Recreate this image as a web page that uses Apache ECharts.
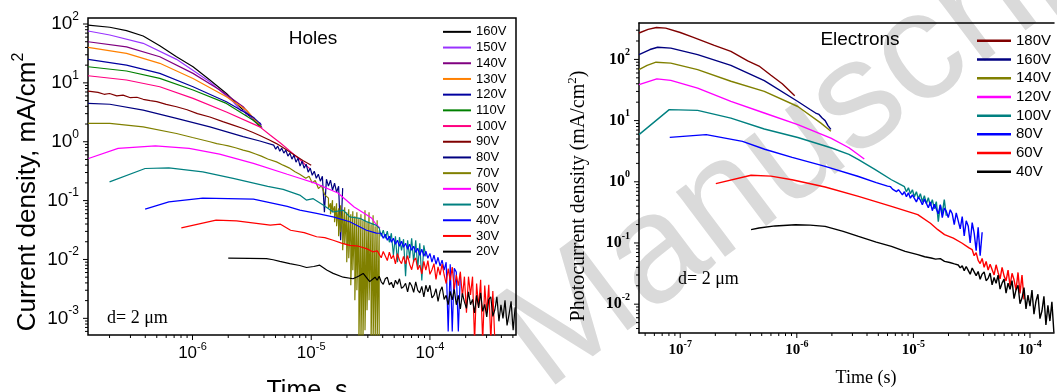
<!DOCTYPE html>
<html>
<head>
<meta charset="utf-8">
<script src="https://cdn.jsdelivr.net/npm/echarts@6/dist/echarts.min.js"></script>
<style>
  html, body { margin: 0; padding: 0; background: #fff; }
  #chart { width: 1057px; height: 392px; }
</style>
</head>
<body>
<div id="chart"></div>
<script>
const SANS = '"Liberation Sans", Arial, sans-serif';
const SERIF = '"Liberation Serif", "Times New Roman", serif';

// Sampling times (s) of the long-time, noisy part of the transients
const tTail = [
  4.828e-6, 5.022e-6, 5.223e-6, 5.433e-6, 5.651e-6, 5.878e-6, 6.114e-6, 6.359e-6, 6.614e-6, 6.880e-6,
  7.156e-6, 7.443e-6, 7.742e-6, 8.053e-6, 8.376e-6, 8.712e-6, 9.062e-6, 9.426e-6, 9.805e-6, 1.0199e-5,
  1.0608e-5, 1.1034e-5, 1.1477e-5, 1.1938e-5, 1.2417e-5, 1.2915e-5, 1.3434e-5, 1.3973e-5, 1.4534e-5, 1.5117e-5,
  1.5724e-5, 1.6355e-5, 1.7012e-5, 1.7695e-5, 1.8405e-5, 1.9144e-5, 1.9912e-5, 2.0711e-5, 2.1544e-5, 2.2408e-5,
  2.3308e-5, 2.4243e-5, 2.5216e-5, 2.6229e-5, 2.7281e-5, 2.8377e-5, 2.9516e-5, 3.0701e-5, 3.1933e-5, 3.3215e-5,
  3.4548e-5, 3.5935e-5, 3.7377e-5, 3.8878e-5, 4.0439e-5, 4.2062e-5, 4.3750e-5, 4.5507e-5, 4.7333e-5, 4.9234e-5,
  5.1210e-5, 5.3266e-5, 5.5404e-5, 5.7628e-5, 5.9942e-5, 6.2348e-5, 6.4851e-5, 6.7454e-5, 7.0162e-5, 7.2979e-5,
  7.5908e-5, 7.8955e-5, 8.2125e-5, 8.5422e-5, 8.8851e-5, 9.2418e-5, 9.6128e-5, 1.0000e-4, 1.0401e-4, 1.0819e-4,
  1.1253e-4, 1.1705e-4, 1.2175e-4, 1.2663e-4, 1.3172e-4, 1.3700e-4, 1.4250e-4, 1.4822e-4, 1.5417e-4, 1.6036e-4,
  1.6681e-4, 1.7350e-4, 1.8047e-4, 1.8772e-4, 1.9525e-4, 2.0309e-4, 2.1124e-4, 2.1972e-4, 2.2855e-4, 2.3772e-4,
  2.4727e-4, 2.5720e-4, 2.6752e-4, 2.7826e-4, 2.8943e-4, 3.0105e-4, 3.1314e-4, 3.2571e-4, 3.3879e-4, 3.5239e-4,
  3.6654e-4, 3.8125e-4, 3.9656e-4, 4.1248e-4, 4.2904e-4, 4.4627e-4, 4.6416e-4, 4.8280e-4, 5.0218e-4, 5.2233e-4
];

// ---------- Holes: [time (s), current density (mA/cm^2)] ----------
const holes160 = [[1.32e-7,96],[2.01e-7,88],[2.78e-7,77],[3.84e-7,62.5],[5.30e-7,42.8],[7.33e-7,27.8],[1.01e-6,18.8],[1.40e-6,11.2],[1.93e-6,6.6],[2.50e-6,3.93],[3.1e-6,2.6],[3.75e-6,1.75]];
const holes150 = [[1.32e-7,76],[2.01e-7,65],[3.84e-7,47],[7.33e-7,25.1],[1.40e-6,10.4],[2.20e-6,4.77],[2.4e-6,3.9],[2.55e-6,3.35],[2.7e-6,3.45],[2.85e-6,2.8],[3.0e-6,2.95],[3.15e-6,2.4],[3.3e-6,2.55],[3.5e-6,2.0],[3.7e-6,2.1],[3.85e-6,1.7]];
const holes140 = [[1.32e-7,50],[2.78e-7,41],[5.30e-7,27.8],[1.01e-6,14.5],[1.70e-6,7.55],[2.67e-6,3.93],[3.2e-6,2.6],[3.8e-6,1.75]];
const holes130 = [[1.32e-7,40],[2.78e-7,31.7],[5.30e-7,21.5],[1.01e-6,11.9],[1.93e-6,5.8],[2.85e-6,3.44],[3.8e-6,1.78]];
const holes120 = [[1.32e-7,25],[2.78e-7,20],[5.30e-7,14.5],[1.01e-6,8.6],[1.93e-6,4.77],[3.22e-6,2.64],[3.8e-6,1.95]];
const holes110 = [[1.32e-7,18.8],[2.78e-7,15.9],[5.30e-7,11.9],[1.01e-6,7.55],[1.93e-6,4.48],[3.22e-6,2.33],[3.8e-6,1.8]];
const holes100 = [[1.32e-7,13.2],[2.78e-7,11.2],[5.30e-7,8.6],[1.01e-6,5.46],[1.93e-6,3.2],[3.69e-6,1.79],[4.5e-6,1.3],[5.5e-6,0.95],[6.6e-6,0.70],[8.0e-6,0.50],[9.7e-6,0.35]];
const holes90 = [[1.32e-7,7.26],[1.6e-7,6.9],[1.8e-7,6.4],[2.0e-7,6.6],[2.3e-7,6.0],[2.6e-7,6.2],[3.0e-7,5.6],[3.4e-7,5.7],[3.84e-7,5.26],[4.4e-7,5.0],[5.0e-7,4.8],[6.0e-7,4.3],[7.33e-7,3.93],[9e-7,3.5],[1.1e-6,3.0],[1.4e-6,2.63],[1.8e-6,2.2],[2.2e-6,1.92],[2.67e-6,1.68],[3.2e-6,1.45],[3.69e-6,1.28],[4.4e-6,1.08],[5.1e-6,0.93],[6e-6,0.76],[7e-6,0.62],[8.5e-6,0.48],[1.0e-5,0.40]];
const holes80 = [[1.32e-7,4.48],[2.01e-7,4.33],[3.84e-7,3.44],[7.33e-7,2.49],[1.40e-6,1.79],[2.67e-6,1.22],[3.69e-6,1.03]];
const holes80Tail = [0.876,0.748,0.842,0.692,0.778,0.640,0.720,0.569,0.640,0.506,0.592,0.450,0.526,0.385,0.468,0.356,0.416,0.304,0.356,0.270,0.316,0.240,0.281,0.214,0.260,0.0635,0.231,0.176,0.222,0.150,0.198,0.139,0.176,0.0212,0.163];
const holes70 = [[1.32e-7,2.05],[2.01e-7,2.05],[3.84e-7,1.79],[7.33e-7,1.38],[1.0e-6,1.18],[1.4e-6,1.0],[1.6e-6,0.93],[1.8e-6,0.89],[2.0e-6,0.85],[2.3e-6,0.79],[2.67e-6,0.72],[3.0e-6,0.68],[3.4e-6,0.62],[3.8e-6,0.57],[4.3e-6,0.51],[5.1e-6,0.455],[5.8e-6,0.40],[6.5e-6,0.36],[7.3e-6,0.31],[8.0e-6,0.28],[9.0e-6,0.24],[9.6e-6,0.26],[1.02e-5,0.20],[1.08e-5,0.22],[1.15e-5,0.16],[1.22e-5,0.18],[1.3e-5,0.125]];
// upper and lower excursions of the 70V trace at each tail sample
const holes70High = [0.110,0.0903,0.1016,0.0803,0.0903,0.0743,0.0835,0.0687,0.0773,0.0635,0.0714,0.0587,0.0661,0.0543,0.0635,0.0502,0.0587,0.0465,0.0687,0.0430,0.0635,0.0397,0.0565,0.0367,0.0465,0.0314];
const holes70Low = [0.0743,0.0587,0.0635,0.0430,0.0367,0.0248,0.0290,0.0143,0.0181,0.0090,0.0105,0.00364,0.00655,0.00202,0.00299,0.0004,0.0004,0.0004,0.000625,0.00137,0.00202,0.0004,0.0004,0.0004,0.0004,0.0004];
const holes60 = [[1.33e-7,0.52],[2.36e-7,0.77],[4.86e-7,0.85],[9.37e-7,0.77],[1.69e-6,0.615],[3.26e-6,0.43],[6.28e-6,0.28],[8.0e-6,0.24],[1.06e-5,0.20],[1.68e-5,0.135],[2.3e-5,0.078],[2.9e-5,0.058],[3.24e-5,0.05],[3.5e-5,0.04],[3.8e-5,0.034]];
const holes50 = [[2.0e-7,0.208],[3.99e-7,0.351],[6.32e-7,0.36],[1.22e-6,0.308],[2.2e-6,0.238],[4.3e-6,0.175],[5.8e-6,0.155],[8.0e-6,0.124],[9.1e-6,0.102],[1.04e-5,0.108],[1.26e-5,0.084],[1.53e-5,0.064],[1.86e-5,0.069],[2.11e-5,0.053],[2.57e-5,0.05],[2.92e-5,0.044],[3.54e-5,0.038]];
const holes50Tail = [0.0340,0.0248,0.0314,0.0229,0.0302,0.0196,0.0279,0.0118,0.0248,0.0090,0.0239,0.0143,0.0221,0.0052,0.0212,0.0105,0.0229,0.0090,0.0212,0.0071,0.0189,0.0044,0.0174,0.0113];
const holes40 = [[3.99e-7,0.0715],[6.32e-7,0.095],[1.22e-6,0.11],[3.26e-6,0.106],[6.28e-6,0.08],[8.02e-6,0.069],[1.11e-5,0.0605],[1.53e-5,0.053],[2.11e-5,0.0438],[2.92e-5,0.0314],[3.54e-5,0.028]];
const holes40Tail = [0.0279,0.0229,0.0268,0.0212,0.0248,0.0196,0.0229,0.0181,0.0212,0.0168,0.0204,0.0161,0.0189,0.0149,0.0181,0.0143,0.0168,0.0132,0.0155,0.0118,0.0149,0.0113,0.0138,0.0105,0.0127,0.0090,0.0118,0.0083,0.0109,0.0077,0.0097,0.0066,0.0090,0.0006,0.0083,0.0006,0.0071,0.0061,0.0006,0.0058];
const holes30 = [[8.05e-7,0.0344],[1.58e-6,0.0465],[2.35e-6,0.0453],[4.52e-6,0.0382],[5.51e-6,0.0397],[6.7e-6,0.0314],[8.72e-6,0.0285],[1.11e-5,0.0243],[1.3e-5,0.0235],[1.53e-5,0.0212],[1.8e-5,0.019],[2.11e-5,0.0174],[2.5e-5,0.0168],[2.92e-5,0.0153],[3.3e-5,0.0135],[3.6e-5,0.0140]];
const holes30Tail = [0.0139,0.0107,0.0137,0.0115,0.0096,0.0133,0.0103,0.0118,0.0084,0.0126,0.0097,0.0085,0.0113,0.0084,0.0116,0.0083,0.0067,0.0096,0.0106,0.0067,0.0080,0.0057,0.0093,0.0066,0.0096,0.0056,0.0067,0.0085,0.0046,0.0075,0.0054,0.0083,0.0055,0.0039,0.0070,0.0044,0.0074,0.0031,0.0055,0.0036,0.0062,0.0023,0.0051,0.00125,0.0051,0.0025,0.0051,0.0004,0.0039,0.00157,0.0045,0.0004,0.0036,0.00124,0.0037,0.0004,0.0029,0.0004];
const holes20 = [[2.0e-6,0.0105],[3.0e-6,0.0104],[4.2e-6,0.0103],[4.78e-6,0.0099],[5.44e-6,0.0093],[6.6e-6,0.0085],[8.0e-6,0.0079],[9.13e-6,0.0073],[1.05e-5,0.0076],[1.18e-5,0.0080],[1.35e-5,0.0066],[1.53e-5,0.0058],[1.86e-5,0.0050],[2.25e-5,0.0047],[2.5e-5,0.0052],[2.74e-5,0.0058],[3.11e-5,0.0042],[3.45e-5,0.0050]];
const holes20Tail = [0.00443,0.00518,0.00418,0.00379,0.00470,0.00498,0.00372,0.00410,0.00331,0.00443,0.00379,0.00470,0.00324,0.00344,0.00394,0.00282,0.00410,0.00357,0.00277,0.00418,0.00299,0.00272,0.00350,0.00232,0.00364,0.00282,0.00364,0.00223,0.00246,0.00318,0.00194,0.00288,0.00344,0.00210,0.00246,0.00170,0.00288,0.00206,0.00311,0.00170,0.00246,0.00145,0.00266,0.00190,0.00148,0.00282,0.00170,0.00210,0.00124,0.00246,0.00151,0.00272,0.00131,0.00173,0.00106,0.00210,0.00232,0.00108,0.00140,0.00232,0.00089,0.00170,0.00100,0.00202,0.00076,0.00117,0.00194,0.00063,0.00154];

// ---------- Electrons: [time (s), photocurrent density (mA/cm^2)] ----------
const elec180 = [[4.43e-8,270],[5.3e-8,310],[6.25e-8,333],[7.5e-8,325],[1.0e-7,275],[1.28e-7,232],[1.96e-7,170],[2.72e-7,135],[3.79e-7,95],[4.74e-7,78],[6.0e-7,55],[7.5e-7,40],[9.6e-7,25.5]];
const elec160 = [[4.43e-8,120],[5.5e-8,145],[6.4e-8,158],[8.3e-8,153],[1.41e-7,120],[2.72e-7,80],[5.26e-7,45],[1.02e-6,20.5],[1.3e-6,15.2],[1.45e-6,13.3],[1.55e-6,12.6],[1.65e-6,11.0],[1.75e-6,10.0],[1.85e-6,8.3],[1.96e-6,7.2]];
const elec140 = [[4.43e-8,68],[5.2e-8,80],[6.2e-8,90],[8.3e-8,87],[1.41e-7,68],[2.72e-7,44],[5.26e-7,30],[1.02e-6,17],[1.61e-6,9.1],[1.96e-6,6.7]];
const elec120 = [[4.43e-8,38.6],[6.3e-8,48],[8.3e-8,45.4],[1.41e-7,34],[2.72e-7,20.6],[5.26e-7,13.3],[1.02e-6,8.57],[1.96e-6,5.19],[2.8e-6,3.6],[3.79e-6,2.36]];
const elec100 = [[4.43e-8,5.9],[8.05e-8,15.1],[1.41e-7,14.7],[2.72e-7,11.0],[5.26e-7,7.3],[1.02e-6,5.3],[1.96e-6,3.6],[2.8e-6,2.8],[3.38e-6,2.3],[4.67e-6,1.6],[6.48e-6,1.08],[7.5e-6,0.93]];
const elec100Tail = [0.832,0.689,0.801,0.639,0.743,0.571,0.689,0.530,0.639,0.473,0.593,0.439,0.550,0.407,0.510,0.363,0.473,0.223,0.422,0.301,0.510,0.279];
const elec80 = [[8.13e-8,5.31],[1.67e-7,5.89],[3.42e-7,4.57],[5.3e-7,3.4],[9.12e-7,2.5],[1.75e-6,1.79],[3.38e-6,1.22],[4.8e-6,0.97],[6.0e-6,0.85]];
const elec80Tail = [0.832,0.760,0.815,0.689,0.745,0.700,0.610,0.690,0.571,0.660,0.540,0.610,0.590,0.470,0.560,0.500,0.420,0.520,0.445,0.377,0.470,0.337,0.430,0.400,0.300,0.420,0.260,0.370,0.330,0.260,0.350,0.300,0.200,0.310,0.230,0.170,0.270,0.130,0.230,0.190,0.100,0.215,0.145,0.075,0.180,0.062,0.150];
const elec60 = [[2.02e-7,0.933],[4.05e-7,1.28],[6.0e-7,1.24],[9.1e-7,1.08],[1.75e-6,0.822],[3.38e-6,0.577],[6.48e-6,0.396],[1.09e-5,0.29],[1.4e-5,0.21],[1.62e-5,0.165],[1.85e-5,0.137],[2.2e-5,0.12],[2.6e-5,0.1],[3.0e-5,0.083]];
const elec60Tail = [0.0777,0.0620,0.0694,0.0520,0.0460,0.0560,0.0400,0.0500,0.0360,0.0450,0.0420,0.0300,0.0440,0.0330,0.0260,0.0400,0.0290,0.0240,0.0360,0.0200,0.0320,0.0250,0.0170,0.0330,0.0150,0.0300,0.0120];
const elec40 = [[4.05e-7,0.165],[4.74e-7,0.176],[6.5e-7,0.19],[9.75e-7,0.199],[1.3e-6,0.196],[1.75e-6,0.187],[2.5e-6,0.155],[3.38e-6,0.128],[4.8e-6,0.103],[6.48e-6,0.088],[8.5e-6,0.073],[1.09e-5,0.0644],[1.25e-5,0.0595],[1.42e-5,0.0569],[1.55e-5,0.0545],[1.7e-5,0.0555],[1.85e-5,0.050],[2.05e-5,0.048],[2.25e-5,0.0455]];
const elec40Tail = [0.0437,0.0392,0.0424,0.0353,0.0412,0.0357,0.0309,0.0390,0.0338,0.0293,0.0342,0.0255,0.0310,0.0337,0.0242,0.0264,0.0322,0.0207,0.0273,0.0220,0.0299,0.0176,0.0221,0.0257,0.0152,0.0220,0.0175,0.0243,0.0123,0.0171,0.0204,0.0102,0.0126,0.0187,0.00838,0.0141,0.00931,0.0170,0.00689,0.0112,0.0145,0.00580,0.00772,0.0134,0.00459,0.00956,0.00530,0.0109,0.00343];

const holeLabels = ['160V','150V','140V','130V','120V','110V','100V','90V','80V','70V','60V','50V','40V','30V','20V'];
const holeColors = ['#000000','#9933ff','#800080','#ff8000','#0000a0','#008000','#ff0080','#800000','#000080','#808000','#ff00ff','#008080','#0000ff','#ff0000','#000000'];
const elecLabels = ['180V','160V','140V','120V','100V','80V','60V','40V'];
const elecColors = ['#800000','#000080','#808000','#ff00ff','#008080','#0000ff','#ff0000','#000000'];

// joins a transient's early part with its sampled tail
function withTail(head, start, tail) {
  return head.concat(tail.map((j, i) => [tTail[start + i], j]).filter(p => p[0] !== undefined));
}
// same, with an upper and a lower reading at every tail sample
function withBursts(head, start, highs, lows) {
  const out = head.slice();
  highs.forEach((h, i) => { out.push([tTail[start + i], h], [tTail[start + i], lows[i]]); });
  return out;
}

const holeData = [
  holes160, holes150, holes140, holes130, holes120, holes110, holes100, holes90,
  withTail(holes80, 0, holes80Tail), withBursts(holes70, 27, holes70High, holes70Low), holes60,
  withTail(holes50, 52, holes50Tail), withTail(holes40, 53, holes40Tail),
  withTail(holes30, 52, holes30Tail), withTail(holes20, 51, holes20Tail)
];
const elecData = [
  elec180, elec160, elec140, elec120, withTail(elec100, 14, elec100Tail),
  withTail(elec80, 7, elec80Tail), withTail(elec60, 48, elec60Tail), withTail(elec40, 41, elec40Tail)
];

// axis ranges
const L = { xMin: 1.317e-7, xMax: 5.31e-4, yMin: 5.21e-4, yMax: 126.5 };
const R = { xMin: 4.43e-8, xMax: 1.607e-4, yMin: 3.38e-3, yMax: 393.6 };

// decade (1) and sub-decade (2..9) tick values inside a range
function logTicks(lo, hi) {
  const out = [];
  for (let e = Math.floor(Math.log10(lo)); e <= Math.ceil(Math.log10(hi)); e++) {
    for (let k = 1; k <= 9; k++) {
      const v = k * Math.pow(10, e);
      if (v >= lo * 1.0001 && v <= hi / 1.0001) out.push([v, k === 1 ? 1 : 0]);
    }
  }
  return out;
}

function powLabel(v) {
  const e = Math.log10(v), r = Math.round(e);
  return Math.abs(e - r) < 1e-6 ? '{b|10}{s|' + r + '}' : '';
}

function tickSeries(gridIdx, range, dir, majorLen, minorLen) {
  const vals = logTicks(dir === 'x' ? range.xMin : range.yMin, dir === 'x' ? range.xMax : range.yMax);
  return {
    type: 'custom', xAxisIndex: gridIdx, yAxisIndex: gridIdx, clip: false, silent: true, z: 6,
    data: vals.map(([v, m]) => dir === 'x' ? [v, range.yMin, m] : [range.xMin, v, m]),
    renderItem: (params, api) => {
      const p = api.coord([api.value(0), api.value(1)]);
      const len = api.value(2) ? majorLen : minorLen;
      const shape = dir === 'x'
        ? { x1: p[0], y1: p[1], x2: p[0], y2: p[1] + len }
        : { x1: p[0] - len, y1: p[1], x2: p[0], y2: p[1] };
      return { type: 'line', shape, style: { stroke: '#000', lineWidth: 1 } };
    }
  };
}

const sansRich = (big, small) => ({
  b: { fontFamily: SANS, fontSize: big, color: '#000', lineHeight: big + 8 },
  s: { fontFamily: SANS, fontSize: small, color: '#000', lineHeight: small + 1, verticalAlign: 'top' }
});
const serifRich = (big, small) => ({
  b: { fontFamily: SERIF, fontWeight: 'bold', fontSize: big, color: '#000', lineHeight: big + 8 },
  s: { fontFamily: SERIF, fontWeight: 'bold', fontSize: small, color: '#000', lineHeight: small + 1, verticalAlign: 'top' }
});

function logAxis(gridIdx, min, max, rich, margin, withLine) {
  return {
    type: 'log', logBase: 10, gridIndex: gridIdx, min, max,
    axisLine: { show: !!withLine, lineStyle: { color: '#000', width: 1.5 } },
    axisTick: { show: false }, splitLine: { show: false },
    axisLabel: { formatter: powLabel, rich, margin, showMinLabel: true, showMaxLabel: true }
  };
}

const series = [];
holeData.forEach((d, i) => series.push({
  name: 'Holes ' + holeLabels[i], type: 'line', xAxisIndex: 0, yAxisIndex: 0, data: d,
  symbol: 'none', showSymbol: false, color: holeColors[i],
  lineStyle: { width: 1.2, color: holeColors[i] }, itemStyle: { color: holeColors[i] }
}));
elecData.forEach((d, i) => series.push({
  name: 'Electrons ' + elecLabels[i], type: 'line', xAxisIndex: 1, yAxisIndex: 1, data: d,
  symbol: 'none', showSymbol: false, color: elecColors[i],
  lineStyle: { width: 1.4, color: elecColors[i] }, itemStyle: { color: elecColors[i] }
}));
series.push(tickSeries(0, L, 'x', 5, 3), tickSeries(0, L, 'y', 5, 3),
            tickSeries(1, R, 'x', 5, 3), tickSeries(1, R, 'y', 5, 3));

const bottomR = logAxis(1, R.xMin, R.xMax, serifRich(15, 10), 6, true);
bottomR.position = 'bottom';
// frame line along the top of the electron panel
const topR = {
  type: 'log', logBase: 10, gridIndex: 1, min: R.xMin, max: R.xMax, position: 'top',
  axisLine: { show: true, lineStyle: { color: '#000', width: 1.5 } },
  axisTick: { show: false }, axisLabel: { show: false }, splitLine: { show: false }
};

const option = {
  animation: false,
  backgroundColor: '#ffffff',
  grid: [
    { left: 88, top: 18, width: 428, height: 317, show: true, borderColor: '#000', borderWidth: 1.5, backgroundColor: 'transparent' },
    { left: 639, top: 23, right: 0, height: 310, show: false }
  ],
  xAxis: [
    logAxis(0, L.xMin, L.xMax, sansRich(17, 11), 6),
    bottomR,
    topR
  ],
  yAxis: [
    logAxis(0, L.yMin, L.yMax, sansRich(19, 12), 9),
    logAxis(1, R.yMin, R.yMax, serifRich(16, 10), 9, true)
  ],
  legend: [
    {
      data: holeLabels.map(n => 'Holes ' + n), formatter: n => n.split(' ')[1],
      orient: 'vertical', left: 443, top: 24, padding: 0, itemWidth: 28, itemHeight: 2, itemGap: 0,
      icon: 'rect', selectedMode: false,
      textStyle: { fontFamily: SANS, fontSize: 13, lineHeight: 15.7, color: '#000' }
    },
    {
      data: elecLabels.map(n => 'Electrons ' + n), formatter: n => n.split(' ')[1],
      orient: 'vertical', left: 977, top: 31.5, padding: 0, itemWidth: 34, itemHeight: 2.5, itemGap: 0,
      icon: 'rect', selectedMode: false,
      textStyle: { fontFamily: SANS, fontSize: 15, lineHeight: 18.7, color: '#000' }
    }
  ],
  graphic: [
    {
      type: 'text', z: -10, x: 520, y: 358, rotation: 37 * Math.PI / 180, silent: true,
      style: { text: 'Manuscript', fill: '#dadada', font: '154px "Liberation Sans", Arial, sans-serif', align: 'left', verticalAlign: 'middle' }
    },
    { type: 'text', x: 313, y: 39, style: { text: 'Holes', fill: '#000', font: '19px "Liberation Sans", Arial, sans-serif', align: 'center', verticalAlign: 'middle' } },
    { type: 'text', x: 860, y: 40, style: { text: 'Electrons', fill: '#000', font: '19px "Liberation Sans", Arial, sans-serif', align: 'center', verticalAlign: 'middle' } },
    { type: 'text', x: 107, y: 318, style: { text: 'd= 2 \u03bcm', fill: '#000', font: '18px "Liberation Serif", "Times New Roman", serif', align: 'left', verticalAlign: 'middle' } },
    { type: 'text', x: 678, y: 279, style: { text: 'd= 2 \u03bcm', fill: '#000', font: '18px "Liberation Serif", "Times New Roman", serif', align: 'left', verticalAlign: 'middle' } },
    { type: 'text', x: 307, y: 391, style: { text: 'Time, s', fill: '#000', font: '25px "Liberation Sans", Arial, sans-serif', align: 'center', verticalAlign: 'middle' } },
    { type: 'text', x: 866, y: 378, style: { text: 'Time (s)', fill: '#000', font: '18px "Liberation Serif", "Times New Roman", serif', align: 'center', verticalAlign: 'middle' } },
    {
      type: 'text', x: 28, y: 192, rotation: Math.PI / 2,
      style: {
        text: '{a|Current density, mA/cm}{s|2}', align: 'center', verticalAlign: 'middle',
        rich: {
          a: { fontFamily: SANS, fontSize: 26, fill: '#000', lineHeight: 34 },
          s: { fontFamily: SANS, fontSize: 16, fill: '#000', lineHeight: 17, verticalAlign: 'top' }
        }
      }
    },
    {
      type: 'text', x: 579, y: 196, rotation: Math.PI / 2,
      style: {
        text: '{a|Photocurrent density (mA/cm}{s|2}{a|)}', align: 'center', verticalAlign: 'middle',
        rich: {
          a: { fontFamily: SERIF, fontSize: 20, fill: '#000', lineHeight: 26 },
          s: { fontFamily: SERIF, fontSize: 13, fill: '#000', lineHeight: 14, verticalAlign: 'top' }
        }
      }
    }
  ],
  series
};

const chart = echarts.init(document.getElementById('chart'), null, { renderer: 'canvas' });
chart.setOption(option);
</script>
</body>
</html>
